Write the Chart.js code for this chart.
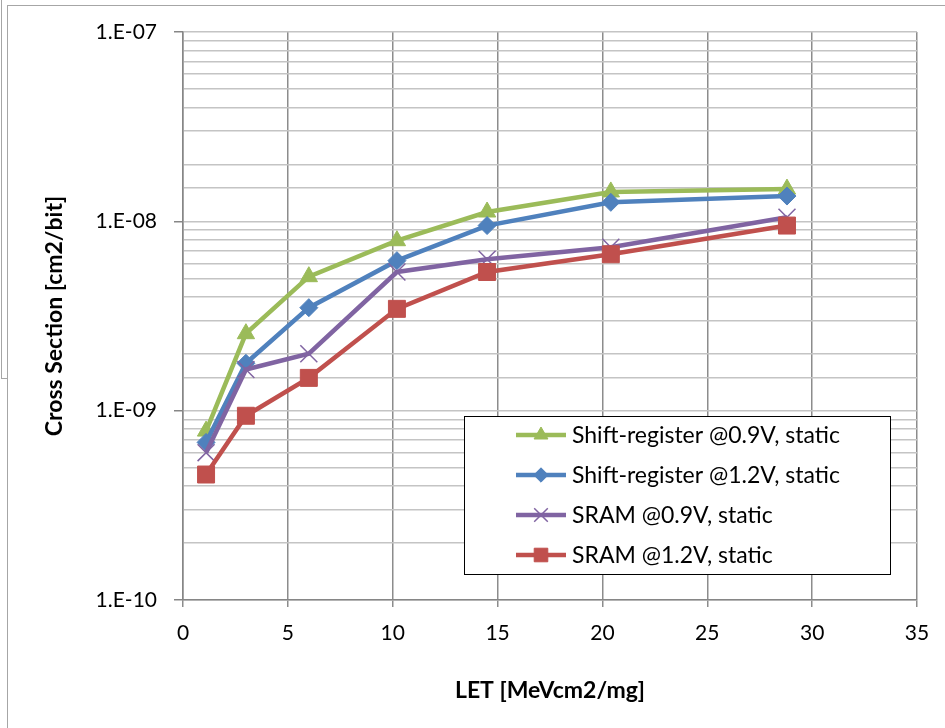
<!DOCTYPE html>
<html>
<head>
<meta charset="utf-8">
<script src="https://cdn.jsdelivr.net/npm/chart.js@4.4.1/dist/chart.umd.min.js"></script>
<style>
    html, body { margin: 0; padding: 0; background: #fff; }
    #wrap { position: relative; width: 945px; height: 728px; overflow: hidden; }
    #frame { position: absolute; left: 7px; top: 5px; width: 960px; height: 760px; border: 1px solid #a6a6a6; pointer-events: none; }
    #frame2 { position: absolute; left: 1px; top: -5px; width: 6px; height: 383px; border-left: 1px solid #a6a6a6; border-bottom: 1px solid #a6a6a6; pointer-events: none; }
    canvas { position: absolute; left: 0; top: 0; }
</style>
</head>
<body>
<div id="wrap">
    <canvas id="chart" width="945" height="728"></canvas>
    <div id="frame"></div>
    <div id="frame2"></div>
</div>
<script>
// ---------- Data ----------

const letValues = [1.1, 3.0, 6.0, 10.2, 14.5, 20.4, 28.8];

const shiftReg09 = [7.8e-10, 2.55e-9, 5.1e-9, 7.9e-9, 1.12e-8, 1.43e-8, 1.48e-8];
const shiftReg12 = [6.8e-10, 1.78e-9, 3.5e-9, 6.2e-9, 9.5e-9, 1.26e-8, 1.36e-8];
const sram09 = [6.0e-10, 1.65e-9, 2.0e-9, 5.4e-9, 6.3e-9, 7.3e-9, 1.05e-8];
const sram12 = [4.6e-10, 9.4e-10, 1.49e-9, 3.45e-9, 5.4e-9, 6.7e-9, 9.5e-9];

const seriesLabels = [
    'Shift-register @0.9V, static',
    'Shift-register @1.2V, static',
    'SRAM @0.9V, static',
    'SRAM @1.2V, static'
];

const FONT = 'Lato, Calibri, Carlito, sans-serif';

// ---------- Helpers ----------

function toPoints(ys) {
    return ys.map((y, i) => ({ x: letValues[i], y: y }));
}

function isDecade(v) {
    const l = Math.log10(v);
    return Math.abs(l - Math.round(l)) < 1e-6;
}

function makeSet(label, data, color, style, radius, pbw, order) {
    return {
        label,
        data: toPoints(data),
        borderColor: color,
        backgroundColor: color,
        borderWidth: 4.5,
        tension: 0,
        pointStyle: style,
        pointRadius: radius,
        pointBackgroundColor: color,
        pointBorderColor: color,
        pointBorderWidth: pbw,
        order
    };
}

// ---------- Legend (line + marker box inside plot) ----------

const boxLegend = {
    id: 'boxLegend',
    afterDraw(chart) {
        const ctx = chart.ctx;
        const x0 = 464, y0 = 416, w = 426, h = 158;
        ctx.save();
        ctx.fillStyle = '#fff';
        ctx.fillRect(x0, y0, w, h);
        ctx.strokeStyle = '#000';
        ctx.lineWidth = 1;
        ctx.strokeRect(x0 + 0.5, y0 + 0.5, w, h);

        const sets = chart.data.datasets;
        sets.forEach((ds, i) => {
            const cy = 435 + i * 40;
            ctx.strokeStyle = ds.borderColor;
            ctx.lineWidth = 4.5;
            ctx.beginPath();
            ctx.moveTo(516, cy);
            ctx.lineTo(566, cy);
            ctx.stroke();

            ctx.fillStyle = ds.pointBackgroundColor;
            ctx.strokeStyle = ds.pointBorderColor;
            ctx.lineWidth = ds.pointBorderWidth;
            Chart.helpers.drawPoint(ctx, {
                pointStyle: ds.pointStyle,
                radius: ds.pointRadius * 0.8,
                rotation: 0,
                borderWidth: ds.pointBorderWidth
            }, 541, cy);

            ctx.fillStyle = '#000';
            ctx.font = '23px ' + FONT;
            ctx.textBaseline = 'middle';
            ctx.textAlign = 'left';
            ctx.fillText(ds.label, 572, cy + 1);
        });
        ctx.restore();
    }
};

// ---------- Chart ----------

const ctx = document.getElementById('chart').getContext('2d');

new Chart(ctx, {
    type: 'line',
    data: {
        datasets: [
            makeSet(seriesLabels[0], shiftReg09, '#9bbb59', 'triangle', 10, 1, 4),
            makeSet(seriesLabels[1], shiftReg12, '#4f81bd', 'rectRot', 9, 1, 3),
            makeSet(seriesLabels[2], sram09, '#8064a2', 'crossRot', 12, 1.5, 2),
            makeSet(seriesLabels[3], sram12, '#c0504d', 'rect', 12, 1, 1)
        ]
    },
    options: {
        responsive: false,
        animation: false,
        devicePixelRatio: 1,
        layout: { padding: { top: 32, right: 28, left: 0, bottom: 0 } },
        plugins: {
            legend: { display: false },
            tooltip: { enabled: false }
        },
        scales: {
            x: {
                type: 'linear',
                min: 0,
                max: 35,
                ticks: {
                    stepSize: 5,
                    color: '#000',
                    font: { family: FONT, size: 21 },
                    padding: 14,
                    maxRotation: 0
                },
                grid: {
                    color: '#8c8c8c',
                    lineWidth: 1.5,
                    tickLength: 7,
                    tickColor: '#8c8c8c'
                },
                border: { color: '#868686', width: 1.5 },
                title: {
                    display: true,
                    text: 'LET [MeVcm2/mg]',
                    color: '#000',
                    font: { family: FONT, size: 23, weight: 'bold' },
                    padding: { top: 0, bottom: 24 }
                },
                afterFit(s) { s.height = 128; }
            },
            y: {
                type: 'logarithmic',
                min: 1e-10,
                max: 1e-7,
                ticks: {
                    autoSkip: false,
                    color: '#000',
                    font: { family: FONT, size: 21 },
                    padding: 17,
                    callback: function (v) {
                        if (!isDecade(v)) return '';
                        const e = Math.round(Math.log10(v));
                        const s = String(Math.abs(e)).padStart(2, '0');
                        return '1.E' + (e < 0 ? '-' : '+') + s;
                    }
                },
                grid: {
                    color: '#c4c4c4',
                    lineWidth: 1.5,
                    tickLength: 9,
                    tickColor: (c) => (c.tick && isDecade(c.tick.value)) ? '#868686' : 'rgba(0,0,0,0)'
                },
                border: { color: '#868686', width: 1.5 },
                title: {
                    display: true,
                    text: 'Cross Section [cm2/bit]',
                    color: '#000',
                    font: { family: FONT, size: 23, weight: 'bold' },
                    padding: { top: 41, bottom: 0 }
                },
                afterFit(s) { s.width = 183; }
            }
        }
    },
    plugins: [boxLegend]
});
</script>
</body>
</html>
